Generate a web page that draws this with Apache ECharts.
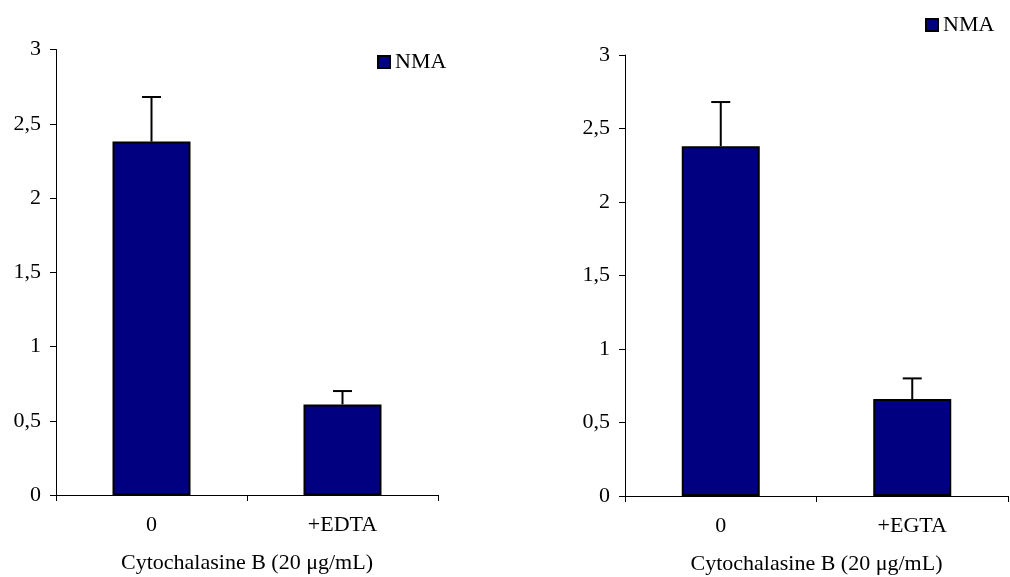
<!DOCTYPE html>
<html>
<head>
<meta charset="utf-8">
<script src="https://cdn.jsdelivr.net/npm/echarts@6/dist/echarts.min.js"></script>
<style>html,body{margin:0;padding:0;background:#fff}#c{width:1010px;height:577px}</style>
</head>
<body>
<div id="c"></div>
<script>
const catsLeft = ['0', '+EDTA'];
const catsRight = ['0', '+EGTA'];
const valuesLeft = [2.38, 0.61];
const errorsLeft = [0.30, 0.09];
const valuesRight = [2.38, 0.66];
const errorsRight = [0.30, 0.14];
const yTicks = [0, 0.5, 1, 1.5, 2, 2.5, 3];
const seriesName = 'NMA';
const axisTitle = 'Cytochalasine B (20 \u03bcg/mL)';

const FONT = '"Liberation Serif", "Times New Roman", serif';
const FS = 22;
const navy = '#000080';

function errorSeries(xi, vals, errs) {
  return {
    type: 'custom',
    xAxisIndex: xi, yAxisIndex: xi,
    z: 5,
    silent: true,
    data: vals.map((v, i) => [i, v, v + errs[i]]),
    renderItem: function (params, api) {
      const i = api.value(0);
      const lo = api.coord([i, api.value(1)]);
      const hi = api.coord([i, api.value(2)]);
      const hw = 9.5;
      return {
        type: 'group',
        children: [
          {type: 'line', shape: {x1: lo[0], y1: lo[1], x2: hi[0], y2: hi[1]}, style: {stroke: '#000', lineWidth: 2}},
          {type: 'line', shape: {x1: hi[0] - hw, y1: hi[1], x2: hi[0] + hw, y2: hi[1]}, style: {stroke: '#000', lineWidth: 2}}
        ]
      };
    }
  };
}

function xAxis(gi, cats) {
  return {
    type: 'category', gridIndex: gi, data: cats,
    axisLine: {lineStyle: {color: '#000', width: 1}},
    axisTick: {show: true, length: 6, alignWithLabel: false, lineStyle: {color: '#000'}},
    axisLabel: {color: '#000', fontFamily: FONT, fontSize: FS, margin: 19},
    name: axisTitle, nameLocation: 'middle', nameGap: 57,
    nameTextStyle: {color: '#000', fontFamily: FONT, fontSize: FS}
  };
}
function yAxis(gi) {
  return {
    type: 'value', gridIndex: gi, min: 0, max: 3, interval: 0.5,
    axisLine: {show: true, lineStyle: {color: '#000', width: 1}},
    axisTick: {show: true, length: 6, lineStyle: {color: '#000'}},
    splitLine: {show: false},
    axisLabel: {color: '#000', fontFamily: FONT, fontSize: FS, margin: 15,
      formatter: v => String(yTicks.find(t => Math.abs(t - v) < 1e-9) ?? v).replace('.', ',')}
  };
}
function barSeries(xi, vals) {
  return {
    name: seriesName, type: 'bar', xAxisIndex: xi, yAxisIndex: xi,
    data: vals, barWidth: 78,
    itemStyle: {color: navy, borderColor: '#000', borderWidth: 2}
  };
}
function legend(left, top) {
  return {data: [seriesName], left: left, top: top, padding: 0, itemWidth: 12, itemHeight: 12, itemGap: 4,
    icon: 'rect', textStyle: {fontFamily: FONT, fontSize: FS, color: '#000'},
    itemStyle: {borderColor: '#000', borderWidth: 2}};
}

const chart = echarts.init(document.getElementById('c'));
chart.setOption({
  animation: false,
  backgroundColor: '#fff',
  grid: [
    {left: 56, right: 572, top: 49.5, bottom: 82, outerBoundsMode: 'none', containLabel: false},
    {left: 625, right: 2, top: 55, bottom: 81, outerBoundsMode: 'none', containLabel: false}
  ],
  legend: [legend(377, 51), legend(925, 14)],
  xAxis: [xAxis(0, catsLeft), xAxis(1, catsRight)],
  yAxis: [yAxis(0), yAxis(1)],
  series: [
    barSeries(0, valuesLeft),
    barSeries(1, valuesRight),
    errorSeries(0, valuesLeft, errorsLeft),
    errorSeries(1, valuesRight, errorsRight)
  ]
});
</script>
</body>
</html>
